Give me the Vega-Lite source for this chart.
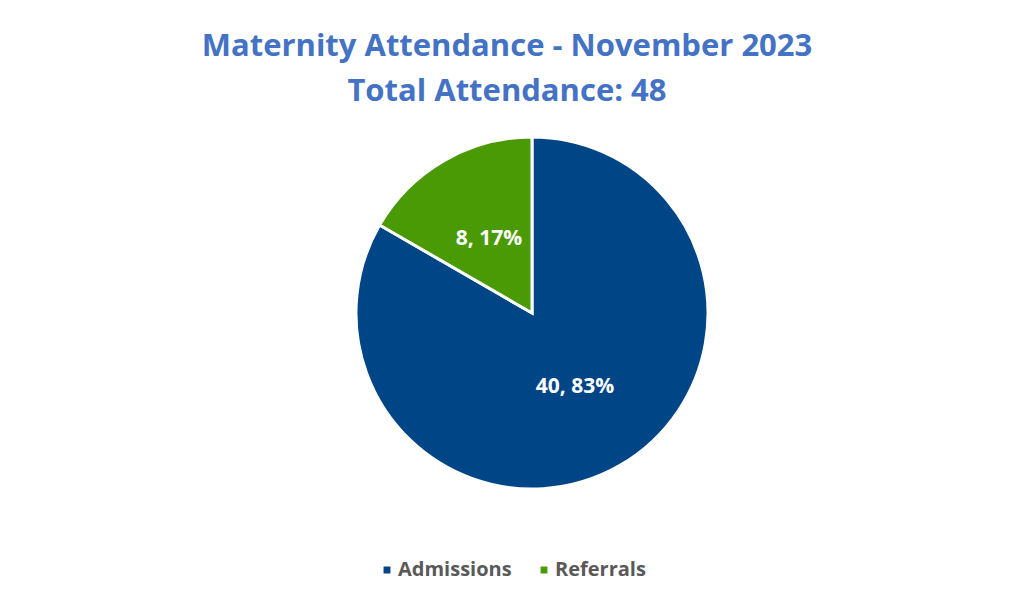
{
  "$schema": "https://vega.github.io/schema/vega-lite/v6.json",
  "width": 960,
  "height": 586,
  "autosize": {"type": "none"},
  "padding": {"left": 52, "top": 20, "right": 0, "bottom": 0},
  "background": "white",
  "config": {"view": {"stroke": null}},
  "title": {
    "text": ["Maternity Attendance - November 2023", "Total Attendance: 48"],
    "orient": "top",
    "anchor": "middle",
    "offset": -88,
    "dx": -25,
    "font": "Open Sans",
    "fontSize": 31,
    "fontWeight": "bold",
    "color": "#4472C4",
    "lineHeight": 45
  },
  "data": {
    "values": [
      {"category": "Admissions", "count": 40, "label": "40, 83%"},
      {"category": "Referrals", "count": 8, "label": "8, 17%"}
    ]
  },
  "encoding": {
    "theta": {"field": "count", "type": "quantitative", "stack": true},
    "order": {"field": "category", "type": "nominal"}
  },
  "layer": [
    {
      "mark": {"type": "arc", "outerRadius": 176, "stroke": "white", "strokeWidth": 3},
      "encoding": {
        "color": {
          "field": "category",
          "type": "nominal",
          "scale": {"domain": ["Admissions", "Referrals"], "range": ["#004586", "#4A9A06"]},
          "legend": {
            "title": null,
            "orient": "none",
            "direction": "horizontal",
            "legendX": 325,
            "legendY": 540,
            "symbolType": "square",
            "symbolSize": 70,
            "labelFont": "Open Sans",
            "labelFontSize": 20,
            "labelFontWeight": "bold",
            "labelColor": "#595959",
            "columnPadding": 22,
            "labelOffset": 1
          }
        }
      }
    },
    {
      "mark": {"type": "text", "radius": 86, "font": "Open Sans", "fontSize": 21, "fontWeight": "bold", "color": "white"},
      "encoding": {
        "text": {"field": "label", "type": "nominal"}
      }
    }
  ]
}
